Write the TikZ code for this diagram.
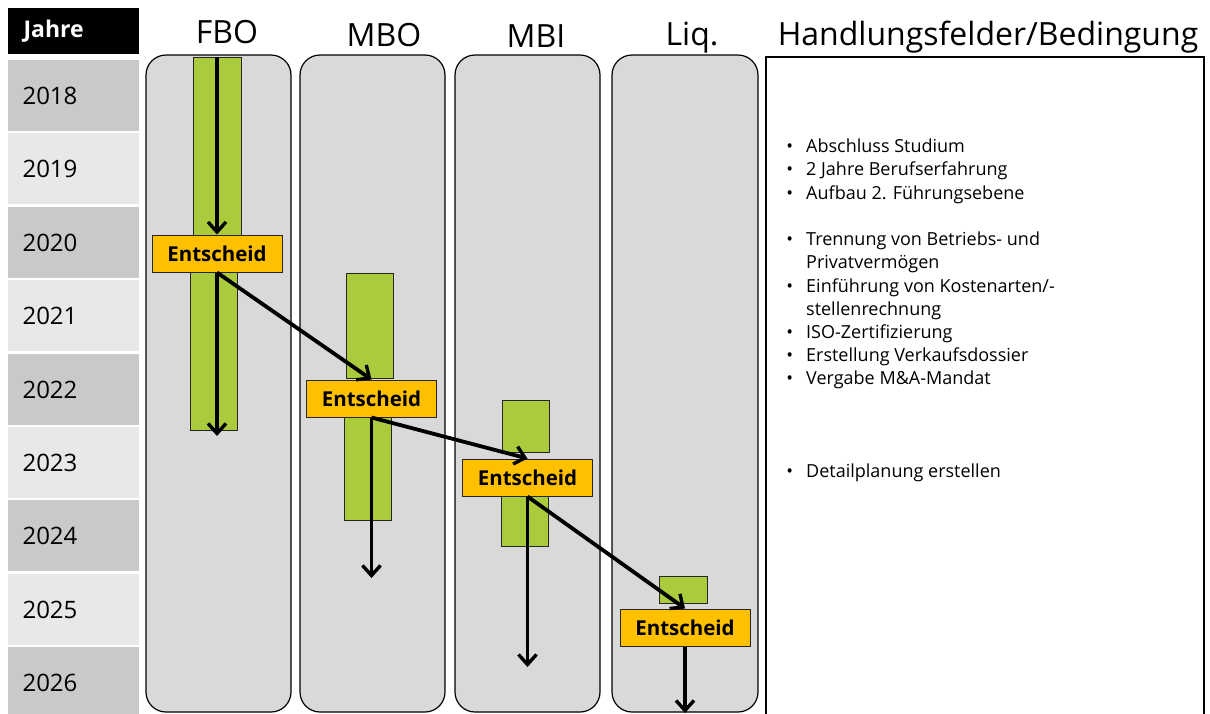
\documentclass[tikz,border=0pt]{standalone}
\usepackage{fontspec}
\setmainfont{Open Sans}
\usetikzlibrary{arrows.meta}
\begin{document}
\begin{tikzpicture}[x=1pt,y=-1pt]
	\colorlet{lane fill}{black!15}
	\colorlet{year dark}{black!21}
	\colorlet{year light}{black!9}
	\definecolor{bar green}{HTML}{A9CB3C}
	\definecolor{decision gold}{HTML}{FFC000}
	\tikzset{lane/.style={fill=lane fill, draw=black, line width=1.2pt, rounded corners=20pt},
		bar/.style={fill=bar green, draw=black!85, line width=0.9pt},
		entscheid/.style={fill=decision gold, draw=black!85, line width=1pt, minimum width=130pt, minimum height=37pt, inner sep=0pt, font=\bfseries\fontsize{20.5}{24}\selectfont},
		year/.style={anchor=west, font=\fontsize{24}{28}\selectfont},
		head/.style={anchor=base, inner sep=0pt, font=\fontsize{32}{36}\selectfont},
		item/.style={anchor=base west, inner sep=0pt, font=\fontsize{18}{21}\selectfont},
		flow/.style={-{Straight Barb[length=10pt,width=18pt,line width=3.4pt]}, line width=3.8pt}}
	\useasboundingbox (0,0) rectangle (1210,713);
	\clip (0,0) rectangle (1210,713);
	% Jahre
	\fill[black] (8,8) rectangle (139,54);
	\node[anchor=west, text=white, font=\bfseries\fontsize{23}{27}\selectfont] (jahre) at (20,31) {Jahre};
	\foreach \yr/\col [count=\i from 0] in {2018/year dark,2019/year light,2020/year dark,2021/year light,2022/year dark,2023/year light,2024/year dark,2025/year light,2026/year dark}{
		\fill[\col] (8,{60+73.4*\i}) rectangle (139,{131+73.4*\i});
		\node[year] (y\yr) at (19,{96+73.4*\i}) {\yr};
	}
	% Spalten
	\draw[lane] (146,55) rectangle (291,712);
	\draw[lane] (300,55) rectangle (445,712);
	\draw[lane] (455,55) rectangle (600,712);
	\draw[lane] (612,55) rectangle (758,712);
	\draw[line width=1.5pt, fill=white] (766,57) rectangle (1204,730);
	\node[head] (fbo) at (227,43) {FBO};
	\node[head] (mbo) at (384,46) {MBO};
	\node[head] (mbi) at (536,47) {MBI};
	\node[head] (liq) at (692,45) {Liq.};
	\node[head] (hfb) at (988,45) {Handlungsfelder/Bedingung};
	% Balken
	\draw[bar] (193,57) rectangle (241,235);
	\draw[bar] (190,272) rectangle (237,430);
	\draw[bar] (346,273) rectangle (393,378);
	\draw[bar] (344,416) rectangle (391,520);
	\draw[bar] (502,400) rectangle (549,452);
	\draw[bar] (501,495) rectangle (548,546);
	\draw[bar] (659,576) rectangle (707,603);
	% Entscheide
	\node[entscheid] (fboE) at (217,253.5) {Entscheid};
	\node[entscheid] (mboE) at (371.5,398.5) {Entscheid};
	\node[entscheid] (mbiE) at (527.5,477.5) {Entscheid};
	\node[entscheid] (liqE) at (685,627.5) {Entscheid};
	\coordinate (fboTop) at (217,57);
	\coordinate (fboEnd) at (217,436);
	\coordinate (mboEnd) at (371.5,578);
	\coordinate (mbiEnd) at (527.5,667);
	\coordinate (liqEnd) at (685,713);
	\draw[flow] (fboTop) -- (fboE.north);
	\draw[flow] (fboE.south) -- (fboEnd);
	\draw[flow] (fboE.south) -- (mboE.north);
	\draw[flow] (mboE.south) -- (mboEnd);
	\draw[flow] (mboE.south) -- (mbiE.north);
	\draw[flow] (mbiE.south) -- (mbiEnd);
	\draw[flow] (mbiE.south) -- (liqE.north);
	\draw[flow] (liqE.south) -- (liqEnd);
	% Handlungsfelder
	\node[item] (t1) at (806,152) {\llap{•\hspace{13pt}}Abschluss Studium};
	\node[item] (t2) at (806,175) {\llap{•\hspace{13pt}}2 Jahre Berufserfahrung};
	\node[item] (t3) at (806,199) {\llap{•\hspace{13pt}}Aufbau 2. Führungsebene};
	\node[item] (t4) at (806,245) {\llap{•\hspace{13pt}}Trennung von Betriebs- und};
	\node[item] (t5) at (806,268) {Privatvermögen};
	\node[item] (t6) at (806,292) {\llap{•\hspace{13pt}}Einführung von Kostenarten/-};
	\node[item] (t7) at (806,315) {stellenrechnung};
	\node[item] (t8) at (806,338) {\llap{•\hspace{13pt}}ISO-Zertifizierung};
	\node[item] (t9) at (806,361) {\llap{•\hspace{13pt}}Erstellung Verkaufsdossier};
	\node[item] (t10) at (806,384) {\llap{•\hspace{13pt}}Vergabe M\&A-Mandat};
	\node[item] (t11) at (806,477) {\llap{•\hspace{13pt}}Detailplanung erstellen};
\end{tikzpicture}
\end{document}
